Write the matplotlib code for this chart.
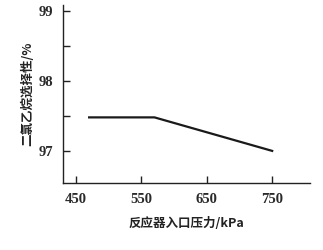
import matplotlib
matplotlib.use("Agg")
import matplotlib.pyplot as plt
from matplotlib.ticker import MultipleLocator

# data
pressure = [470, 570, 750]
selectivity = [97.48, 97.48, 97.0]
xticks = [450, 550, 650, 750]
yticks = [97, 98, 99]

cjk = ['Noto Sans CJK SC', 'DejaVu Sans']
num_font = 'Liberation Serif'

fig = plt.figure(figsize=(3.23, 2.5), dpi=100)
ax = fig.add_axes([0.195, 0.268, 0.765, 0.712])

ax.plot(pressure, selectivity, color='#1a1a1a', lw=1.6)

ax.set_xlim(430, 808)
ax.set_ylim(96.54, 99.09)
ax.set_xticks(xticks)
ax.set_yticks(yticks)
ax.yaxis.set_minor_locator(MultipleLocator(0.5))

for s in ['top', 'right']:
    ax.spines[s].set_visible(False)
for s in ['left', 'bottom']:
    ax.spines[s].set_linewidth(1.0)
    ax.spines[s].set_color('#222222')

ax.tick_params(which='both', direction='in', color='#222222', width=1.0)
ax.tick_params(which='major', length=5, labelsize=10.5, labelcolor='#2a2a2a', pad=7)
ax.tick_params(which='minor', length=5)
for lab in ax.get_xticklabels() + ax.get_yticklabels():
    lab.set_family(num_font)
    lab.set_fontweight('bold')

ax.set_xlabel('反应器入口压力/kPa', family=cjk, fontsize=9, fontweight='bold',
              color='#222222', labelpad=8)
ax.set_ylabel('二氯乙烷选择性/%', family=cjk, fontsize=9, fontweight='bold',
              color='#222222', labelpad=3)

fig.savefig('out.png', dpi=100, facecolor='white')
